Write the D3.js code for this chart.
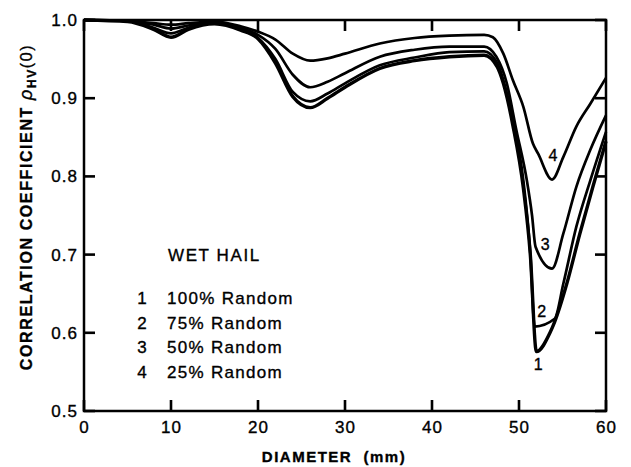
<!DOCTYPE html>
<html>
<head>
<meta charset="utf-8">
<script src="https://cdn.jsdelivr.net/npm/d3@7"></script>
<style>
  body { margin: 0; background: #fff; }
  svg { display: block; }
  text { font-family: "Liberation Sans", Arial, sans-serif; fill: #000; stroke: #000; stroke-width: 0.35px; }
</style>
</head>
<body>
<svg id="chart"></svg>
<script>
// diameter (mm) and correlation coefficient, one pair of arrays per curve
var diam1 = [0, 5, 8, 10, 12, 15, 18, 20, 22, 24, 26, 28, 30, 34, 38, 42, 46, 47.5, 48.2, 49.3, 50.5, 51.3, 52, 53.6, 54.1, 55.5, 57, 58.5, 60];
var rho1  = [1.0, 0.998, 0.988, 0.978, 0.988, 0.995, 0.987, 0.976, 0.945, 0.902, 0.888, 0.900, 0.914, 0.938, 0.948, 0.953, 0.955, 0.940, 0.919, 0.865, 0.785, 0.700, 0.576, 0.601, 0.614, 0.663, 0.727, 0.787, 0.845];

var diam2 = [0, 5, 8, 10, 12, 15, 18, 20, 22, 24, 26, 28, 30, 34, 38, 42, 46, 47.5, 48.2, 49.3, 50.5, 51.3, 51.8, 54.1, 55.1, 56.6, 58.2, 60];
var rho2  = [1.0, 0.999, 0.990, 0.983, 0.990, 0.996, 0.988, 0.977, 0.950, 0.908, 0.896, 0.906, 0.919, 0.942, 0.952, 0.959, 0.960, 0.945, 0.923, 0.872, 0.795, 0.702, 0.608, 0.618, 0.663, 0.736, 0.795, 0.857];

var diam3 = [0, 5, 8, 10, 12, 15, 18, 20, 22, 24, 26, 28, 30, 34, 38, 42, 46, 47.4, 48.6, 49.7, 50.9, 51.5, 51.9, 53.8, 55.1, 56.6, 58.2, 60];
var rho3  = [1.0, 0.999, 0.994, 0.989, 0.993, 0.997, 0.990, 0.981, 0.963, 0.930, 0.914, 0.921, 0.932, 0.953, 0.962, 0.966, 0.966, 0.953, 0.919, 0.859, 0.795, 0.750, 0.710, 0.682, 0.727, 0.787, 0.834, 0.878];

var diam4 = [0, 5, 8, 10, 12, 15, 18, 20, 22, 24, 26, 28, 30, 34, 38, 42, 46, 47, 48.2, 49.3, 50.5, 51.6, 52.2, 53.8, 55.1, 56.6, 58.2, 60];
var rho4  = [1.0, 0.999, 0.996, 0.994, 0.996, 0.998, 0.992, 0.985, 0.975, 0.957, 0.948, 0.951, 0.957, 0.970, 0.977, 0.980, 0.981, 0.978, 0.957, 0.923, 0.889, 0.842, 0.829, 0.796, 0.825, 0.864, 0.893, 0.926];

var xTicks = [0, 10, 20, 30, 40, 50, 60];
var yTicks = [0.5, 0.6, 0.7, 0.8, 0.9, 1.0];

var legendTitle = "WET HAIL";
var legendNums = ["1", "2", "3", "4"];
var legendText = ["100% Random", "75% Random", "50% Random", "25% Random"];

// curve number labels, placed in data units near each minimum
var tagDiam = [52.2, 52.6, 53.0, 53.9];
var tagRho  = [0.559, 0.627, 0.713, 0.827];

var width = 631, height = 467;
var plotL = 84, plotR = 606, plotT = 20, plotB = 411;
var tickLen = 11, tickW = 2.6;

var svg = d3.select("#chart")
            .attr("width", width)
            .attr("height", height);

var x = d3.scaleLinear().domain([0, 60]).range([plotL, plotR]);
var y = d3.scaleLinear().domain([0.5, 1.0]).range([plotB, plotT]);

// frame
svg.append("path")
   .attr("d", "M" + plotL + "," + plotT + "H" + plotR + "V" + plotB + "H" + plotL + "Z")
   .attr("fill", "none")
   .attr("stroke", "#000")
   .attr("stroke-width", 2.5);

//****************** axes ******************//
// labels from d3 axes; tick marks drawn as small filled rects below
var axisFont = function(g)
{
  g.select(".domain").remove();
  g.selectAll(".tick line").remove();
  g.selectAll(".tick text")
   .attr("font-family", "Liberation Sans, Arial, sans-serif")
   .attr("font-size", "17px")
   .attr("letter-spacing", "1px")
   .attr("fill", "#000");
};

svg.append("g")
   .attr("transform", "translate(" + plotL + ",0)")
   .call(d3.axisLeft(y).tickValues(yTicks).tickSize(0).tickPadding(6).tickFormat(d3.format(".1f")))
   .call(axisFont);

svg.append("g")
   .attr("transform", "translate(0," + plotB + ")")
   .call(d3.axisBottom(x).tickValues(xTicks).tickSize(0).tickPadding(10))
   .call(axisFont);

// inward ticks on left and right
svg.selectAll("rect.ytick")
   .data(yTicks.concat(yTicks))
   .enter()
   .append("rect")
   .attr("class", "ytick")
   .attr("x", function(d, i) { return i < yTicks.length ? plotL : plotR - tickLen; })
   .attr("y", function(d) { return y(d) - tickW / 2; })
   .attr("width", tickLen)
   .attr("height", tickW)
   .attr("fill", "#000");

// inward ticks on bottom and top
svg.selectAll("rect.xtick")
   .data(xTicks.concat(xTicks))
   .enter()
   .append("rect")
   .attr("class", "xtick")
   .attr("x", function(d) { return x(d) - tickW / 2; })
   .attr("y", function(d, i) { return i < xTicks.length ? plotB - tickLen : plotT; })
   .attr("width", tickW)
   .attr("height", tickLen)
   .attr("fill", "#000");

//****************** curves ******************//
var series = [
  {d: diam1, r: rho1, w: 3.4},
  {d: diam2, r: rho2, w: 2.7},
  {d: diam3, r: rho3, w: 2.7},
  {d: diam4, r: rho4, w: 2.7}
];

var line = d3.line()
             .x(function(p) { return x(p[0]); })
             .y(function(p) { return y(p[1]); })
             .curve(d3.curveMonotoneX);

svg.selectAll("path.curve")
   .data(series)
   .enter()
   .append("path")
   .attr("class", "curve")
   .attr("d", function(s) { return line(d3.zip(s.d, s.r)); })
   .attr("fill", "none")
   .attr("stroke", "#000")
   .attr("stroke-width", function(s) { return s.w; })
   .attr("stroke-linejoin", "round");

svg.selectAll("text.tag")
   .data(legendNums)
   .enter()
   .append("text")
   .attr("class", "tag")
   .attr("x", function(d, i) { return x(tagDiam[i]); })
   .attr("y", function(d, i) { return y(tagRho[i]); })
   .attr("text-anchor", "middle")
   .attr("dominant-baseline", "central")
   .attr("font-size", "16px")
   .text(function(d) { return d; });

//****************** legend ******************//
svg.append("text")
   .attr("x", 168).attr("y", 261)
   .attr("font-size", "17px")
   .attr("letter-spacing", "1.6px")
   .text(legendTitle);

var rows = svg.selectAll("g.row")
   .data(legendText)
   .enter()
   .append("g")
   .attr("class", "row")
   .attr("transform", function(d, i) { return "translate(0," + (304 + i * 24.5) + ")"; });

rows.append("text")
    .attr("x", 142).attr("text-anchor", "middle")
    .attr("font-size", "17px")
    .text(function(d, i) { return legendNums[i]; });

rows.append("text")
    .attr("x", 167)
    .attr("font-size", "17px")
    .attr("letter-spacing", "1.3px")
    .text(function(d) { return d; });

//****************** axis titles ******************//
svg.append("text")
   .attr("x", 334).attr("y", 462)
   .attr("text-anchor", "middle")
   .attr("font-size", "15px")
   .attr("font-weight", "bold")
   .attr("letter-spacing", "1.5px")
   .style("white-space", "pre")
   .text("DIAMETER  (mm)");

var yTitle = svg.append("text")
   .attr("transform", "translate(32,207) rotate(-90)")
   .attr("text-anchor", "middle")
   .attr("font-size", "16px")
   .attr("font-weight", "bold")
   .attr("letter-spacing", "1.6px");

yTitle.append("tspan").text("CORRELATION COEFFICIENT ");
yTitle.append("tspan").attr("font-style", "italic").attr("font-weight", "normal").attr("font-size", "18px").text("ρ");
yTitle.append("tspan").attr("font-size", "12px").attr("dy", "4").text("HV");
yTitle.append("tspan").attr("font-size", "16px").attr("font-weight", "normal").attr("dy", "-4").text("(0)");
</script>
</body>
</html>
